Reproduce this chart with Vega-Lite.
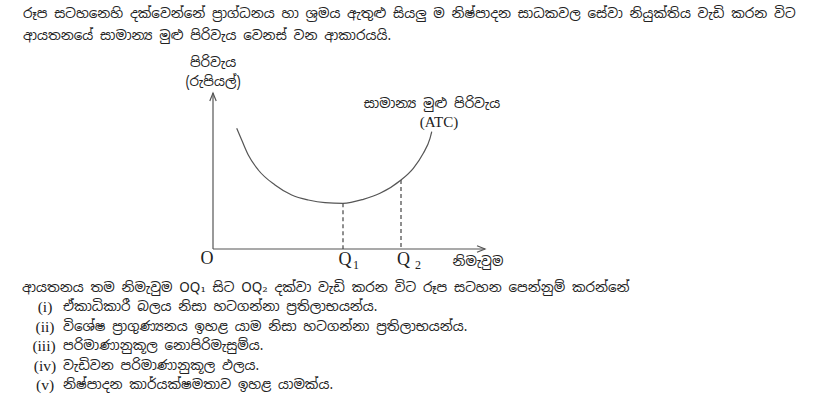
{
  "$schema": "https://vega.github.io/schema/vega-lite/v6.json",
  "width": 831,
  "height": 404,
  "autosize": {"type": "fit", "contains": "padding"},
  "padding": 0,
  "background": "white",
  "config": {"view": {"stroke": null}},
  "datasets": {
    "curve": [
      {"q": 23.7, "c": 120.7}, {"q": 28.7, "c": 109}, {"q": 35.3, "c": 94}, {"q": 45.3, "c": 79},
      {"q": 62, "c": 64}, {"q": 78.7, "c": 54}, {"q": 95.3, "c": 49}, {"q": 112, "c": 46.3},
      {"q": 130, "c": 45.7}, {"q": 150.3, "c": 49.7}, {"q": 167, "c": 55.7}, {"q": 188, "c": 69},
      {"q": 200.3, "c": 80.7}, {"q": 210.3, "c": 95.7}, {"q": 217, "c": 110.7}, {"q": 218.7, "c": 117.3}
    ],
    "axes": [
      {"q": 0, "c": 0, "q2": 272, "c2": 0},
      {"q": 0, "c": 0, "q2": 0, "c2": 156}
    ],
    "guides": [{"q": 130, "c": 45.7}, {"q": 188, "c": 69}],
    "para": [
      {"q": -190, "c": 235, "t": "රූප සටහනෙහි දක්වෙන්නේ ප්‍රාග්ධනය හා ශ්‍රමය ඇතුළු සියලු ම නිෂ්පාදන සාධකවල සේවා නියුක්තිය වැඩි කරන විට"},
      {"q": -190, "c": 213, "t": "ආයතනයේ සාමාන්‍ය මුළු පිරිවැය වෙනස් වන ආකාරයයි."},
      {"q": -191, "c": -39, "t": "ආයතනය තම නිමැවුම OQ₁ සිට OQ₂ දක්වා වැඩි කරන විට රූප සටහන පෙන්නුම් කරන්නේ"},
      {"q": -150, "c": -58, "t": "ඒකාධිකාරී බලය නිසා හටගන්නා ප්‍රතිලාභයන්ය."},
      {"q": -150, "c": -77.5, "t": "විශේෂ ප්‍රාගුණ්‍යනය ඉහළ යාම නිසා හටගන්නා ප්‍රතිලාභයන්ය."},
      {"q": -150, "c": -97, "t": "පරිමාණානුකූල නොපිරිමැසුම්ය."},
      {"q": -150, "c": -116.5, "t": "වැඩිවන පරිමාණානුකූල ඵලය."},
      {"q": -150, "c": -136, "t": "නිෂ්පාදන කාර්යක්ෂමතාව ඉහළ යාමක්ය."}
    ],
    "numerals": [
      {"q": -168, "c": -58, "t": "(i)"},
      {"q": -168, "c": -77.5, "t": "(ii)"},
      {"q": -169, "c": -97, "t": "(iii)"},
      {"q": -168, "c": -116.5, "t": "(iv)"},
      {"q": -168, "c": -136, "t": "(v)"}
    ],
    "chartLabels": [
      {"q": 0, "c": 186, "t": "පිරිවැය"},
      {"q": 0, "c": 167, "t": "(රුපියල්)"},
      {"q": 219, "c": 145, "t": "සාමාන්‍ය මුළු පිරිවැය"},
      {"q": 265, "c": -13, "t": "නිමැවුම"}
    ],
    "serifLabels": [
      {"q": 226, "c": 127, "t": "(ATC)"}
    ],
    "bigLabels": [
      {"q": -6, "c": -10, "t": "O"},
      {"q": 132, "c": -11, "t": "Q"},
      {"q": 190.5, "c": -11, "t": "Q"}
    ],
    "subs": [
      {"q": 143, "c": -16, "t": "1"},
      {"q": 205, "c": -16, "t": "2"}
    ]
  },
  "encoding": {
    "x": {"field": "q", "type": "quantitative", "scale": {"domain": [-213, 618], "nice": false, "zero": false}, "axis": null},
    "y": {"field": "c", "type": "quantitative", "scale": {"domain": [-155, 249], "nice": false, "zero": false}, "axis": null}
  },
  "layer": [
    {
      "data": {"name": "axes"},
      "mark": {"type": "rule", "color": "#555", "strokeWidth": 1.2},
      "encoding": {"x2": {"field": "q2"}, "y2": {"field": "c2"}}
    },
    {
      "data": {"values": [{"q": 272, "c": 0}]},
      "mark": {"type": "point", "shape": "M-2,-0.8L0,0L-2,0.8", "size": 64, "filled": false, "stroke": "#555", "strokeWidth": 1.2, "opacity": 1},
      "encoding": {}
    },
    {
      "data": {"values": [{"q": 0, "c": 156}]},
      "mark": {"type": "point", "shape": "M-0.8,2L0,0L0.8,2", "size": 64, "filled": false, "stroke": "#555", "strokeWidth": 1.2, "opacity": 1},
      "encoding": {}
    },
    {
      "data": {"name": "guides"},
      "mark": {"type": "rule", "color": "#444", "strokeWidth": 1.2, "strokeDash": [4, 3]},
      "encoding": {"y2": {"datum": 0}}
    },
    {
      "data": {"name": "curve"},
      "mark": {"type": "line", "color": "#555", "strokeWidth": 1.2, "interpolate": "monotone"},
      "encoding": {}
    },
    {
      "data": {"name": "para"},
      "mark": {"type": "text", "align": "left", "baseline": "middle", "fontSize": 13.5, "font": "Noto Sans Sinhala, Noto Serif Sinhala, DejaVu Serif, serif", "color": "#222"},
      "encoding": {"text": {"field": "t"}}
    },
    {
      "data": {"name": "numerals"},
      "mark": {"type": "text", "align": "center", "baseline": "middle", "fontSize": 15.5, "font": "Liberation Serif", "color": "#222"},
      "encoding": {"text": {"field": "t"}}
    },
    {
      "data": {"name": "chartLabels"},
      "mark": {"type": "text", "align": "center", "baseline": "middle", "fontSize": 13.5, "font": "Noto Sans Sinhala, Noto Serif Sinhala, DejaVu Serif, serif", "color": "#222"},
      "encoding": {"text": {"field": "t"}}
    },
    {
      "data": {"name": "serifLabels"},
      "mark": {"type": "text", "align": "center", "baseline": "middle", "fontSize": 15, "font": "Liberation Serif", "color": "#222"},
      "encoding": {"text": {"field": "t"}}
    },
    {
      "data": {"name": "bigLabels"},
      "mark": {"type": "text", "align": "center", "baseline": "middle", "fontSize": 18, "font": "Liberation Serif", "color": "#222"},
      "encoding": {"text": {"field": "t"}}
    },
    {
      "data": {"name": "subs"},
      "mark": {"type": "text", "align": "center", "baseline": "middle", "fontSize": 12, "font": "Liberation Serif", "color": "#222"},
      "encoding": {"text": {"field": "t"}}
    }
  ]
}
